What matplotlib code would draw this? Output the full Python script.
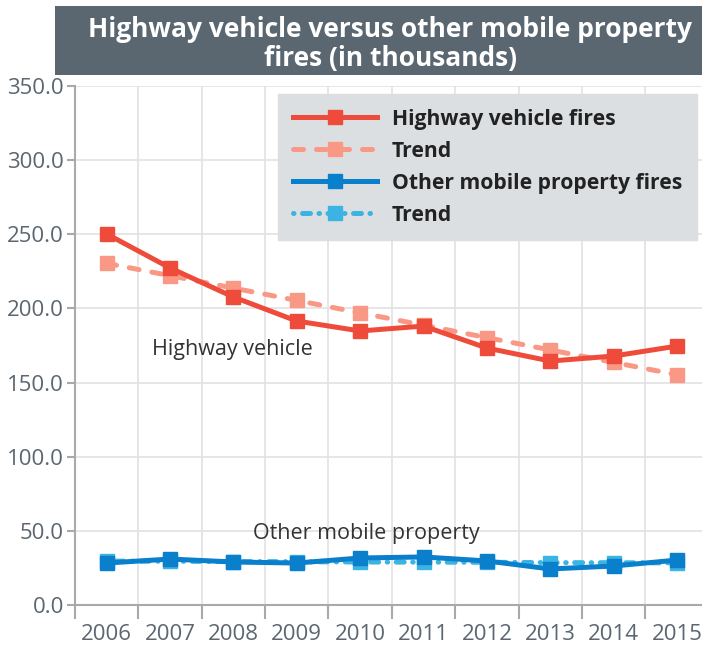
import matplotlib
matplotlib.use("Agg")
import matplotlib.pyplot as plt
from matplotlib.patches import Rectangle

plt.rcParams['font.family'] = ['Open Sans', 'DejaVu Sans']

years = ['2006', '2007', '2008', '2009', '2010', '2011', '2012', '2013', '2014', '2015']
highway = [250.2, 227.3, 207.7, 191.5, 184.8, 188.1, 173.3, 164.5, 167.9, 174.6]
highway_trend = [230.4, 222.1, 213.7, 205.4, 197.0, 188.7, 180.3, 172.0, 163.6, 155.3]
other = [28.3, 31.0, 29.0, 28.3, 31.7, 32.4, 29.7, 24.3, 26.3, 30.3]
other_trend = [29.6, 29.5, 29.3, 29.2, 29.0, 28.9, 28.8, 28.6, 28.5, 28.4]

C_HW = '#ee4b3a'
C_HW_T = '#fa9886'
C_OT = '#0a7fcb'
C_OT_T = '#3cb4e3'
GRID = '#e2e2e2'
AXIS = '#a9a9a9'
TXT = '#5b6670'

fig = plt.figure(figsize=(7.02, 6.48), dpi=100)
ax = fig.add_axes([75 / 702, 1 - 605 / 648, 633.7 / 702, (605 - 86) / 648])

x = list(range(len(years)))
ms = 10
lw = 3.6
ax.plot(x, highway_trend, color=C_HW_T, lw=lw, ls=(0, (2.0, 2.6)), dash_capstyle='round',
        marker='s', ms=ms, label='Trend', zorder=3)
ax.plot(x, highway, color=C_HW, lw=lw, marker='s', ms=ms, label='Highway vehicle fires', zorder=4)
ax.plot(x, other_trend, color=C_OT_T, lw=lw, ls=(0, (0.1, 1.7, 1.6, 1.7)), dash_capstyle='round',
        marker='s', ms=ms, label='Trend', zorder=3)
ax.plot(x, other, color=C_OT, lw=lw, marker='s', ms=ms, label='Other mobile property fires', zorder=4)

ax.set_xlim(-0.5, 9.5)
ax.set_ylim(0, 350)
yt = [0, 50, 100, 150, 200, 250, 300, 350]
ax.set_yticks(yt)
ax.set_yticklabels([f'{v:.1f}' for v in yt])
ax.set_xticks(x)
ax.set_xticklabels(years)
ax.set_xticks([i - 0.5 for i in range(len(years) + 1)], minor=True)
ax.tick_params(axis='x', which='major', length=0, labelsize=16, labelcolor=TXT, pad=14)
ax.tick_params(axis='x', which='minor', length=10, width=1.5, color=AXIS)
ax.tick_params(axis='y', which='major', length=6, width=1.5, color=AXIS, labelsize=16,
               labelcolor=TXT, pad=2)
ax.grid(True, which='minor', axis='x', color=GRID, lw=1.2)
ax.grid(True, which='major', axis='y', color=GRID, lw=1.2)
ax.set_axisbelow(True)
for s in ['top', 'right']:
    ax.spines[s].set_visible(False)
for s in ['left', 'bottom']:
    ax.spines[s].set_color(AXIS)
    ax.spines[s].set_linewidth(1.5)

ax.text(1.98, 172, 'Highway vehicle', fontsize=15.5, color='#333333', ha='center', va='center')
ax.text(4.09, 48.5, 'Other mobile property', fontsize=15.5, color='#333333', ha='center', va='center')

handles, labels = ax.get_legend_handles_labels()
order = [1, 0, 3, 2]
leg = ax.legend([handles[i] for i in order], [labels[i] for i in order],
                loc='upper right', frameon=True, fancybox=False, facecolor='#dcdfe2',
                edgecolor='#dcdfe2', framealpha=1, handlelength=4.0, handletextpad=0.7,
                prop={'weight': 'bold', 'size': 15.2}, labelspacing=0.52, borderpad=0.7,
                borderaxespad=0)
leg.set_bbox_to_anchor((697 / 702, 1 - 94 / 648), transform=fig.transFigure)
for t in leg.get_texts():
    t.set_color('#222222')

fig.patches.append(Rectangle((55 / 702, 1 - 75 / 648), 647 / 702, 69 / 648,
                             transform=fig.transFigure, facecolor='#5a6670', edgecolor='none'))
fig.text(390 / 702, 1 - 44 / 648,
         'Highway vehicle versus other mobile property\nfires (in thousands)',
         ha='center', va='center', color='white', fontsize=19, fontweight='bold', linespacing=1.1)

fig.savefig('out.png', dpi=100)
